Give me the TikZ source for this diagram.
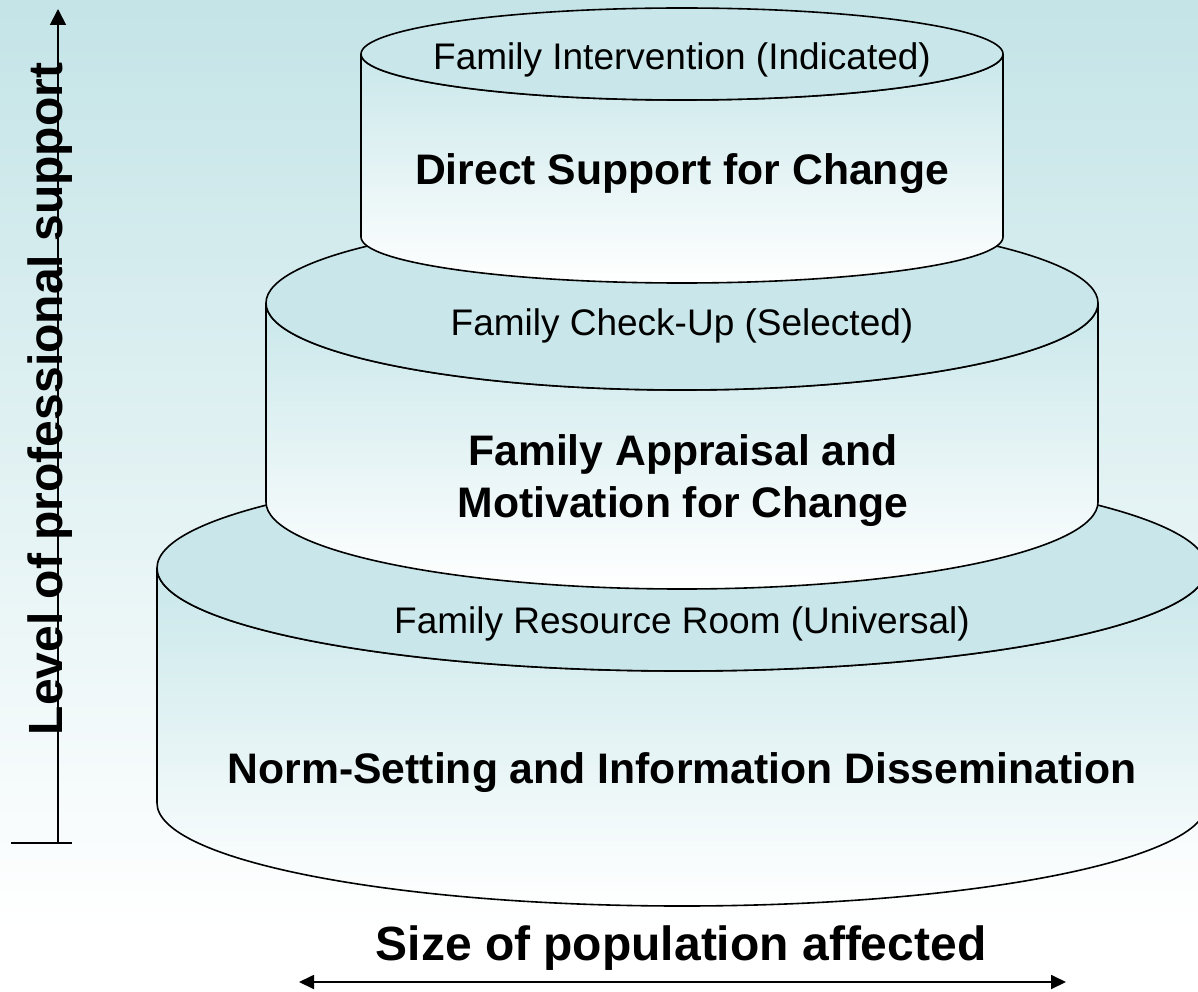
\documentclass[tikz,border=0pt]{standalone}
\usepackage{fontspec}
\setmainfont{Liberation Sans}
\usetikzlibrary{arrows.meta}
\definecolor{bgtop}{RGB}{196,228,231}
\definecolor{cyl}{RGB}{201,231,234}
\tikzset{
  outline/.style={draw=black, line width=1.6pt},
  toplab/.style={anchor=base, inner sep=0pt, font=\fontsize{37}{44}\selectfont},
  mainlab/.style={anchor=base, inner sep=0pt, font=\fontsize{42.7}{50}\selectfont\bfseries},
  axislab/.style={anchor=base, inner sep=0pt, font=\fontsize{48}{56}\selectfont\bfseries},
  axisline/.style={line width=1.8pt}
}
\newcommand{\cakelayer}[5]{% cx, rx, ytop, ybottom, ry  (y as positive px downward)
  \shade[outline, top color=cyl, bottom color=white]
    ({#1-#2},{-#3}) -- ({#1-#2},{-#4})
    arc[start angle=180, end angle=360, x radius=#2, y radius=#5]
    -- ({#1+#2},{-#3})
    arc[start angle=0, end angle=-180, x radius=#2, y radius=#5] -- cycle;
  \filldraw[outline, fill=cyl] (#1,{-#3}) ellipse[x radius=#2, y radius=#5];
}
\begin{document}
\begin{tikzpicture}[x=1pt,y=1pt]
\useasboundingbox (0,0) rectangle (1198,-992);
\clip (0,0) rectangle (1198,-992);
\fill[white] (0,0) rectangle (1198,-992);
\shade[top color=bgtop, bottom color=white] (0,0) rectangle (1198,-930);

% layers, bottom first
\cakelayer{682}{525}{568}{803}{103}
\cakelayer{682}{416}{303}{502}{87}
\cakelayer{682}{321}{54}{237}{46}

% labels
\node[toplab]  (t1) at (682,-70)  {Family Intervention (Indicated)};
\node[mainlab] (m1) at (682,-185) {Direct Support for Change};
\node[toplab]  (t2) at (682,-335) {Family Check-Up (Selected)};
\node[mainlab] (m2a) at (683,-465) {Family Appraisal and};
\node[mainlab] (m2b) at (683,-517) {Motivation for Change};
\node[toplab]  (t3) at (682,-633) {Family Resource Room (Universal)};
\node[mainlab] (m3) at (682,-783) {Norm-Setting and Information Dissemination};

% vertical axis
\coordinate (ybot) at (58,-843);
\coordinate (ytop) at (58,-9);
\coordinate (tickL) at (11,-843);
\coordinate (tickR) at (72,-843);
\draw[axisline, -{Triangle[length=16pt,width=16pt]}] (ybot) -- (ytop);
\draw[axisline] (tickL) -- (tickR);
\node[axislab, rotate=90] (ylab) at (62,-399) {Level of professional support};

% horizontal axis
\coordinate (xl) at (299,-982);
\coordinate (xr) at (1066,-982);
\draw[axisline, {Triangle[length=15pt,width=14pt]}-{Triangle[length=15pt,width=14pt]}] (xl) -- (xr);
\node[axislab] (xlab) at (681,-960) {Size of population affected};
\end{tikzpicture}
\end{document}
